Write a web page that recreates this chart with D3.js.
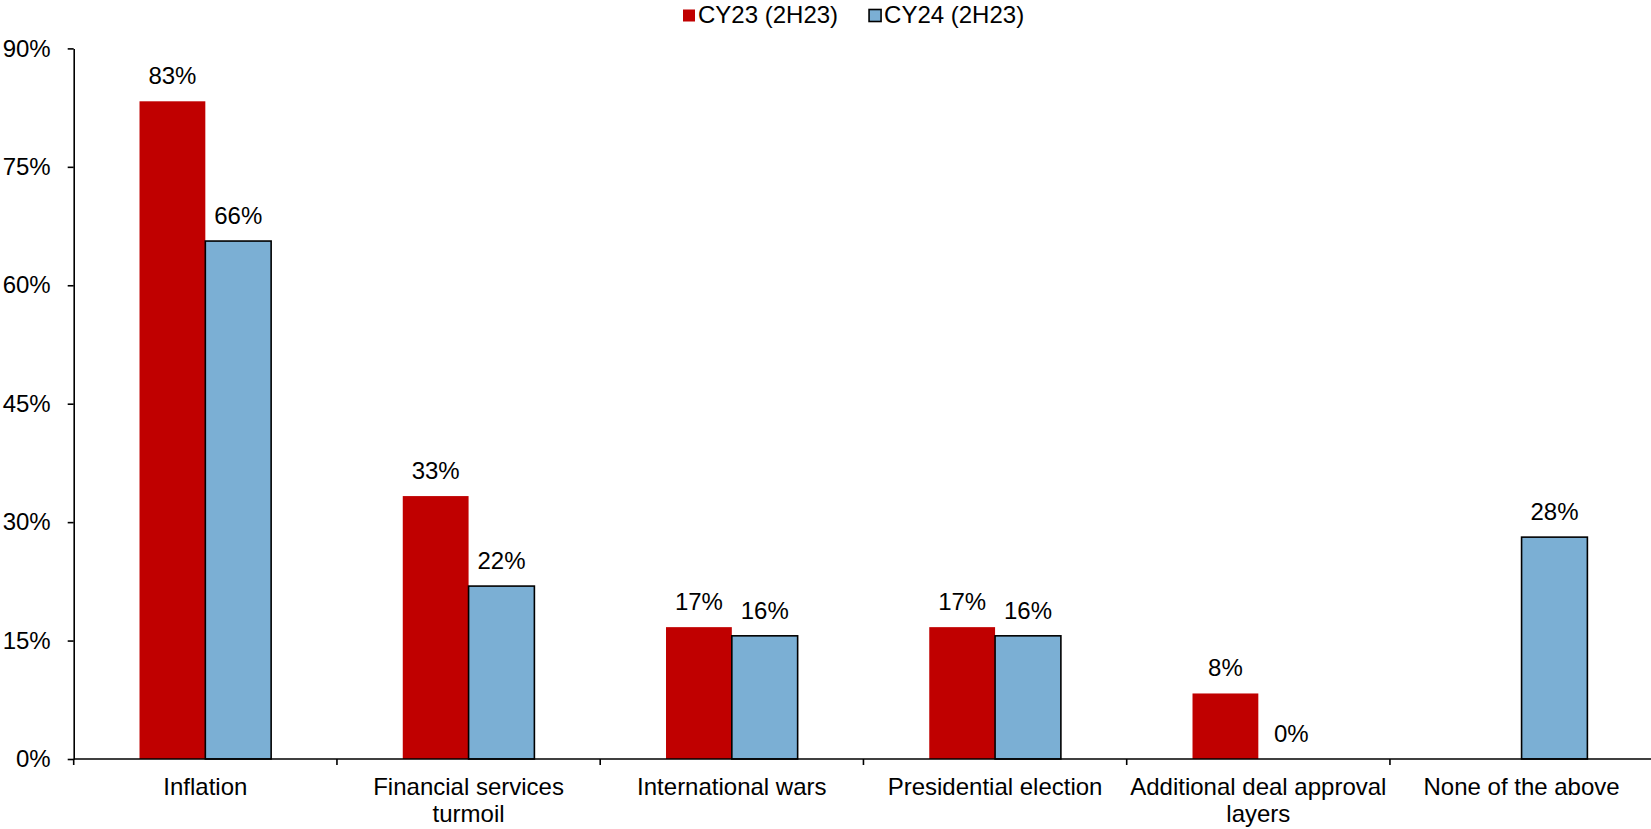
<!DOCTYPE html>
<html>
<head>
<meta charset="utf-8">
<script src="https://cdn.jsdelivr.net/npm/d3@7"></script>
<style>
  html, body { margin: 0; padding: 0; background: #fff; }
  svg { display: block; font-family: "Liberation Sans", Arial, sans-serif; }
</style>
</head>
<body>
<svg id="chart" width="1651" height="829"></svg>
<script>
// Survey shares of respondents citing each factor
const categories = [
  "Inflation",
  "Financial services turmoil",
  "International wars",
  "Presidential election",
  "Additional deal approval layers",
  "None of the above"
];
const seriesNames = ["CY23 (2H23)", "CY24 (2H23)"];
const cy23 = [0.833, 0.333, 0.167, 0.167, 0.083, null];
const cy24 = [0.656, 0.219, 0.156, 0.156, 0.0, 0.281];
const yTicks = [0, 0.15, 0.30, 0.45, 0.60, 0.75, 0.90];
const colors = ["#C00000", "#7BAFD4"];

(function () {
  const plotLeft = 73.7, plotRight = 1653.2, plotTop = 48.4, plotBottom = 759;
  const fontSize = 24;

  const svg = d3.select("#chart");

  const x = d3.scaleBand()
    .domain(categories)
    .range([plotLeft, plotRight])
    .paddingInner(0.5)
    .paddingOuter(0.25);

  const xs = d3.scaleBand()
    .domain(seriesNames)
    .range([0, x.bandwidth()]);

  const y = d3.scaleLinear().domain([0, 0.9]).range([plotBottom, plotTop]);

  const fmt = d3.format(".0%");

  // Bars
  const rows = categories.map((c, i) => ({ c, vals: [cy23[i], cy24[i]] }));
  const groups = svg.append("g").selectAll("g")
    .data(rows).join("g")
    .attr("transform", d => `translate(${x(d.c)},0)`);

  groups.selectAll("rect")
    .data(d => d.vals.map((v, k) => ({ v, k })).filter(e => e.v !== null && e.v > 0))
    .join("rect")
    .attr("x", e => xs(seriesNames[e.k]))
    .attr("width", xs.bandwidth())
    .attr("y", e => y(e.v))
    .attr("height", e => y(0) - y(e.v))
    .attr("fill", e => colors[e.k])
    .attr("stroke", e => e.k === 1 ? "#000" : "none")
    .attr("stroke-width", 1.6);

  // Value labels
  groups.selectAll("text")
    .data(d => d.vals.map((v, k) => ({ v, k })).filter(e => e.v !== null))
    .join("text")
    .attr("x", e => xs(seriesNames[e.k]) + xs.bandwidth() / 2)
    .attr("y", e => y(e.v) - 17)
    .attr("text-anchor", "middle")
    .attr("font-size", fontSize)
    .attr("fill", "#000")
    .text(e => fmt(e.v));

  // Y axis
  const yAxis = svg.append("g")
    .attr("transform", `translate(${plotLeft},0)`)
    .call(d3.axisLeft(y).tickValues(yTicks).tickFormat(fmt).tickSize(6).tickSizeOuter(0).tickPadding(17));
  yAxis.select(".domain").attr("stroke", "#000").attr("stroke-width", 1.6);
  yAxis.selectAll(".tick line").attr("stroke", "#000").attr("stroke-width", 1.6);
  yAxis.selectAll(".tick text")
    .attr("font-size", fontSize)
    .attr("font-family", "Liberation Sans, Arial, sans-serif")
    .attr("fill", "#000");

  // X axis line with category boundary ticks
  const xAxis = svg.append("g");
  xAxis.append("line")
    .attr("x1", plotLeft).attr("x2", plotRight)
    .attr("y1", y(0)).attr("y2", y(0))
    .attr("stroke", "#000").attr("stroke-width", 1.6);
  xAxis.selectAll("line.tk")
    .data(categories)
    .join("line")
    .attr("class", "tk")
    .attr("x1", c => x(c) + x.bandwidth() / 2 - x.step() / 2)
    .attr("x2", c => x(c) + x.bandwidth() / 2 - x.step() / 2)
    .attr("y1", y(0)).attr("y2", y(0) + 6)
    .attr("stroke", "#000").attr("stroke-width", 1.6);

  // Category labels, wrapped to the category width
  const catText = xAxis.selectAll("text")
    .data(categories)
    .join("text")
    .attr("x", c => x(c) + x.bandwidth() / 2)
    .attr("y", y(0) + 36)
    .attr("text-anchor", "middle")
    .attr("font-size", fontSize)
    .attr("fill", "#000");

  catText.each(function (c) {
    const t = d3.select(this);
    const cx = x(c) + x.bandwidth() / 2;
    const words = c.split(" ");
    let line = [];
    let tspan = t.append("tspan").attr("x", cx).attr("dy", 0);
    for (const w of words) {
      line.push(w);
      tspan.text(line.join(" "));
      if (tspan.node().getComputedTextLength() > x.step() - 2 && line.length > 1) {
        line.pop();
        tspan.text(line.join(" "));
        line = [w];
        tspan = t.append("tspan").attr("x", cx).attr("dy", 27).text(w);
      }
    }
  });

  // Legend
  const legend = svg.append("g").attr("transform", "translate(683,0)");
  let lx = 0;
  seriesNames.forEach((name, k) => {
    const g = legend.append("g").attr("transform", `translate(${lx},0)`);
    g.append("rect")
      .attr("x", 0).attr("y", 9.5)
      .attr("width", 12).attr("height", 12)
      .attr("fill", colors[k])
      .attr("stroke", k === 1 ? "#000" : "none")
      .attr("stroke-width", 1.6);
    const t = g.append("text")
      .attr("x", 15).attr("y", 23)
      .attr("font-size", fontSize)
      .attr("fill", "#000")
      .text(name);
    lx += 15 + t.node().getComputedTextLength() + 31;
  });
})();
</script>
</body>
</html>
